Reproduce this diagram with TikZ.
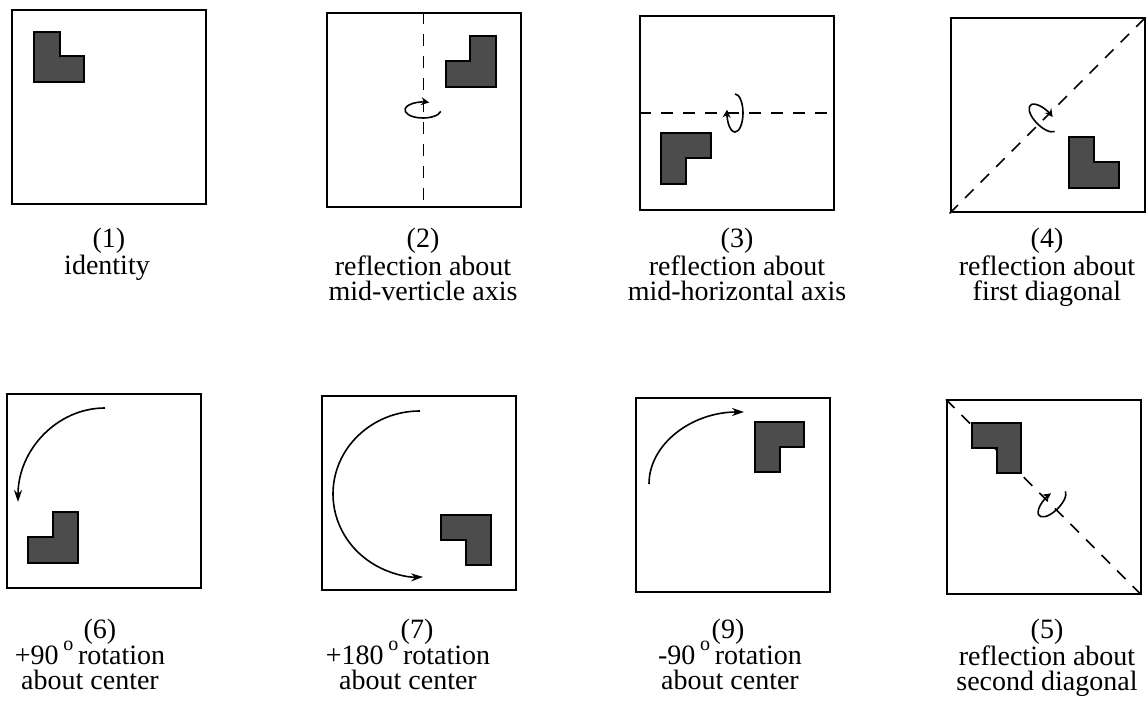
\documentclass[tikz,border=0pt]{standalone}
\usepackage{fontspec}
\setmainfont{Liberation Serif}
\usetikzlibrary{arrows.meta}
\newcommand{\dego}{\,\smash{\raisebox{0.5em}{\fontsize{10}{10}\selectfont o}}\,}
\tikzset{
  panel/.style   = {draw, line width=1pt, minimum size=97pt, inner sep=0pt},
  blk/.style     = {draw=black, line width=0.8pt, fill=black!70},
  axisln/.style  = {dash pattern=on 6pt off 5pt, line width=0.8pt},
  spin/.style    = {line width=0.8pt, -{Stealth[length=4pt,width=4pt]}},
  turn/.style    = {line width=0.8pt, -{Stealth[length=6pt,width=4pt]}},
  capnum/.style  = {inner sep=0pt, anchor=base,
                    font=\fontsize{14}{12.75}\selectfont},
  captext/.style = {inner sep=0pt, anchor=north, align=center,
                    font=\fontsize{14}{12.75}\selectfont}
}
\begin{document}
\begin{tikzpicture}[x=0.5pt, y=-0.5pt]
  \useasboundingbox (0,0) rectangle (1148,710);
  % panels
  \node[panel] (p1) at (109,107.5)  {};
  \node[panel] (p2) at (423.5,110.5) {};
  \node[panel] (p3) at (737,113)    {};
  \node[panel] (p4) at (1047.5,115.5) {};
  \node[panel] (p6) at (104,491)    {};
  \node[panel] (p7) at (419,493)    {};
  \node[panel] (p9) at (732.5,495.5) {};
  \node[panel] (p5) at (1044,497.5) {};
  % axes of reflection
  \draw[axisln] (p2.north) -- (p2.south);
  \draw[axisln] (p3.west) -- (p3.east);
  \draw[axisln] (p4.south west) -- (p4.north east);
  \draw[axisln] (p5.north west) -- (p5.south east);
  % the L blocks
  \draw[blk] (34,32) -- (60,32) -- (60,56) -- (84,56) -- (84,82) -- (34,82) -- cycle;
  \draw[blk] (470,36) -- (496,36) -- (496,87) -- (446,87) -- (446,61) -- (470,61) -- cycle;
  \draw[blk] (661,133) -- (711,133) -- (711,158) -- (686,158) -- (686,184) -- (661,184) -- cycle;
  \draw[blk] (1069,137) -- (1094,137) -- (1094,162) -- (1119,162) -- (1119,188) -- (1069,188) -- cycle;
  \draw[blk] (53,512) -- (78,512) -- (78,563) -- (28,563) -- (28,537) -- (53,537) -- cycle;
  \draw[blk] (441,515) -- (491,515) -- (491,565) -- (466,565) -- (466,540) -- (441,540) -- cycle;
  \draw[blk] (755,422) -- (804,422) -- (804,447) -- (780,447) -- (780,472) -- (755,472) -- cycle;
  \draw[blk] (972,423) -- (1021,423) -- (1021,473) -- (997,473) -- (997,448) -- (972,448) -- cycle;
  % flip marks
  \draw[spin] (423,110) ++(10:18 and 8)
        arc[start angle=10, end angle=290, x radius=18, y radius=8];
  \draw[spin] (735,113) ++(-90:8 and 19)
        arc[start angle=-90, end angle=190, x radius=8, y radius=19];
  \draw[spin, shift={(1043,118)}, rotate=-45] (10:18 and 8)
        arc[start angle=10, end angle=290, x radius=18, y radius=8];
  \draw[spin, shift={(1052,503)}, rotate=45] (10:18 and 8)
        arc[start angle=10, end angle=290, x radius=18, y radius=8];
  % turn arrows
  \draw[turn] (105,408) arc[start angle=-90, end angle=-180, x radius=87, y radius=94];
  \draw[turn] (420,411) arc[start angle=-90, end angle=-272, x radius=87, y radius=83];
  \draw[turn] (649,484) arc[start angle=-180, end angle=-90, x radius=95, y radius=72];
  % captions
  \node[capnum]  (n1) at (109,248)  {(1)};
  \node[captext] (d1) at (107,255)  {identity};
  \node[capnum]  (n2) at (423,248)  {(2)};
  \node[captext] (d2) at (423,255)  {reflection about\\mid-verticle axis};
  \node[capnum]  (n3) at (737,248)  {(3)};
  \node[captext] (d3) at (737,255)  {reflection about\\mid-horizontal axis};
  \node[capnum]  (n4) at (1047,248) {(4)};
  \node[captext] (d4) at (1047,255) {reflection about\\first diagonal};
  \node[capnum]  (n6) at (100,639)  {(6)};
  \node[captext] (d6) at (90,645)   {+90\dego rotation\\about center};
  \node[capnum]  (n7) at (417,639)  {(7)};
  \node[captext] (d7) at (408,645)  {+180\dego rotation\\about center};
  \node[capnum]  (n9) at (728,639)  {(9)};
  \node[captext] (d9) at (730,645)  {-90\dego rotation\\about center};
  \node[capnum]  (n5) at (1047,639) {(5)};
  \node[captext] (d5) at (1047,645) {reflection about\\second diagonal};
\end{tikzpicture}
\end{document}
